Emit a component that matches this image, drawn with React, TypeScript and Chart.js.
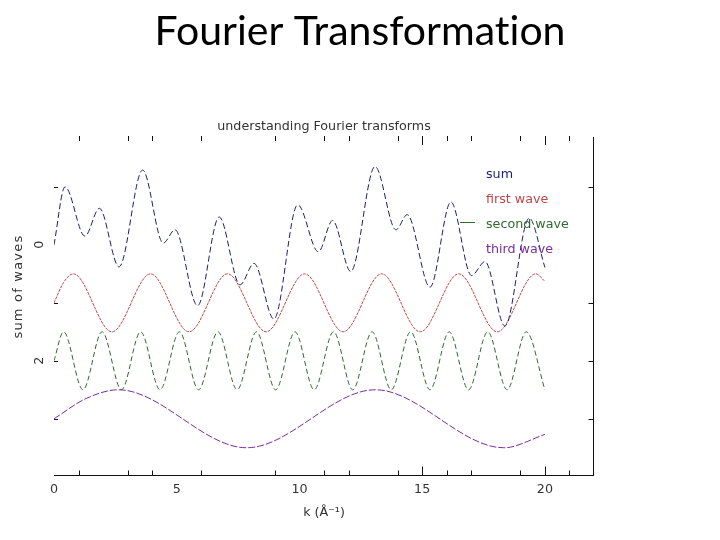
import React, { useEffect, useRef } from 'react';
import { Chart, registerables } from 'chart.js';

Chart.register(...registerables);

// ---- data ----
const sumX = [0, 0.45, 1.26, 1.85, 2.65, 3.61, 4.45, 4.93, 5.85, 6.73, 7.58, 8.15, 8.96, 9.93, 10.77, 11.35, 12.09, 13.08, 13.93, 14.39, 15.32, 16.17, 17.01, 17.56, 18.37, 19.36, 20];
const sumY = [0, -1.0, -0.15, -0.63, 0.38, -1.29, -0.03, -0.26, 1.05, -0.48, 0.69, 0.32, 1.28, -0.69, 0.12, -0.42, 0.46, -1.35, -0.26, -0.52, 0.73, -0.74, 0.53, 0.29, 1.4, -0.46, 0.39];

const firstX = [0, 0.39, 0.79, 2.36, 3.93, 5.5, 7.07, 8.64, 10.21, 11.78, 13.35, 14.92, 16.49, 18.06, 19.63, 20];
const firstY = [1, 0.65, 0.5, 1.5, 0.5, 1.5, 0.5, 1.5, 0.5, 1.5, 0.5, 1.5, 0.5, 1.5, 0.5, 0.63];

const secondX = [0, 0.39, 1.18, 1.96, 2.75, 3.53, 4.32, 5.11, 5.89, 6.68, 7.46, 8.25, 9.03, 9.82, 10.6, 11.39, 12.17, 12.96, 13.74, 14.53, 15.32, 16.1, 16.89, 17.67, 18.46, 19.24, 20];
const secondY = [2, 1.5, 2.5, 1.5, 2.5, 1.5, 2.5, 1.5, 2.5, 1.5, 2.5, 1.5, 2.5, 1.5, 2.5, 1.5, 2.5, 1.5, 2.5, 1.5, 2.5, 1.5, 2.5, 1.5, 2.5, 1.5, 2.5];

const thirdX = [0, 1.31, 2.62, 7.85, 13.09, 18.33, 20];
const thirdY = [3, 2.65, 2.5, 3.5, 2.5, 3.5, 3.27];

const seriesLabels = ['sum', 'first wave', 'second wave', 'third wave'];
const seriesColors = ['#1c1c7a', '#c04646', '#2e6a2e', '#7a2c9e'];

const xTickValues = [0, 5, 10, 15, 20];
const xTickMarks = [1, 3, 4, 6, 9, 11, 12, 14, 15, 16, 17, 19, 20, 21];
const yTickValues = [-1, 0, 1, 2, 3];
const yTickLabels = ['', '0', '', '2', ''];
const yTickMarks = [-1, 1, 2, 3];

// ZWNJ keeps "ti" from forming a ligature
const slideTitle = 'Fourier Transformat\u200Cion';
const chartTitle = 'understanding Fourier transforms';
const xTitle = 'k (Å⁻¹)';
const yTitle = 'sum of waves';

const AX_FONT = { family: '"DejaVu Sans", sans-serif', size: 12.7 };
const TXT = '#333';

const toPts = (xs: number[], ys: number[]) => xs.map((x, i) => ({ x, y: ys[i] }));

const framePlugin = {
  id: 'frame',
  afterDatasetsDraw(chart: any) {
    const { ctx, chartArea: a, scales } = chart;
    const xs = scales.x;
    const ys = scales.y;
    ctx.save();
    ctx.strokeStyle = '#111';
    ctx.lineWidth = 1;
    ctx.setLineDash([]);
    const b = Math.round(a.bottom) + 0.5;
    const r = Math.round(a.right) - 0.5;
    const t = Math.round(a.top);
    ctx.beginPath();
    ctx.moveTo(xs.getPixelForValue(0), b);
    ctx.lineTo(r + 0.5, b);
    ctx.moveTo(r, t);
    ctx.lineTo(r, b);
    xTickMarks.forEach((v) => {
      const px = Math.round(xs.getPixelForValue(v)) + 0.5;
      const len = v % 5 === 0 ? 9 : 5;
      ctx.moveTo(px, b);
      ctx.lineTo(px, b - len);
      ctx.moveTo(px, t - 1);
      ctx.lineTo(px, t + len - 1);
    });
    yTickMarks.forEach((v) => {
      const py = Math.round(ys.getPixelForValue(v)) + 0.5;
      ctx.moveTo(a.left, py);
      ctx.lineTo(a.left + 4, py);
      ctx.moveTo(r, py);
      ctx.lineTo(r - 5, py);
    });
    ctx.stroke();

    // legend (text entries inside plot)
    ctx.font = '12.7px "DejaVu Sans", sans-serif';
    ctx.textBaseline = 'middle';
    ctx.textAlign = 'left';
    chart.data.datasets.forEach((ds: any, i: number) => {
      ctx.fillStyle = ds.borderColor;
      ctx.fillText(ds.label, a.left + 432, a.top + 38 + i * 25);
    });
    ctx.strokeStyle = seriesColors[2];
    ctx.beginPath();
    ctx.moveTo(a.left + 406, a.top + 85.5);
    ctx.lineTo(a.left + 421, a.top + 85.5);
    ctx.stroke();

    // y-axis title, placed as in the original (off-centre, wide spacing)
    ctx.save();
    ctx.translate(a.left - 35, ys.getPixelForValue(0.72));
    ctx.rotate(-Math.PI / 2);
    ctx.font = '13px "DejaVu Sans", sans-serif';
    try { (ctx as any).letterSpacing = '1.2px'; } catch (e) {}
    ctx.fillStyle = TXT;
    ctx.textAlign = 'center';
    ctx.textBaseline = 'middle';
    ctx.fillText(yTitle, 0, 0);
    ctx.restore();
    ctx.restore();
  },
};

export default function App() {
  const ref = useRef<HTMLCanvasElement | null>(null);

  useEffect(() => {
    if (!ref.current) return;
    const dashes = [[6, 3], [3, 1], [5, 3], [7, 2]];
    const sets = [
      toPts(sumX, sumY),
      toPts(firstX, firstY),
      toPts(secondX, secondY),
      toPts(thirdX, thirdY),
    ];
    const chart = new Chart(ref.current, {
      type: 'line',
      data: {
        datasets: sets.map((d, i) => ({
          label: seriesLabels[i],
          data: d,
          borderColor: seriesColors[i],
          backgroundColor: seriesColors[i],
          borderWidth: 1,
          borderDash: dashes[i],
          pointRadius: 0,
          fill: false,
          cubicInterpolationMode: 'monotone' as const,
        })),
      },
      options: {
        responsive: false,
        animation: false,
        layout: { padding: 0 },
        plugins: {
          legend: { display: false },
          tooltip: { enabled: false },
          title: {
            display: true,
            text: slideTitle,
            color: '#000',
            font: { family: 'Lato, "Liberation Sans", sans-serif', size: 41, weight: 'normal' },
            padding: { top: 32 - 0.6 * 41, bottom: 87.38 - 0.6 * 41 },
          },
          subtitle: {
            display: true,
            text: chartTitle,
            color: TXT,
            fullSize: false,
            font: AX_FONT,
            padding: { top: 0, bottom: 2.38 },
          },
        },
        scales: {
          x: {
            type: 'linear',
            min: 0,
            max: 22,
            afterBuildTicks: (s: any) => {
              s.ticks = xTickValues.map((v) => ({ value: v }));
            },
            afterFit: (s: any) => {
              s.height = 65;
            },
            grid: { display: false, drawTicks: false },
            border: { display: false },
            ticks: { font: AX_FONT, color: TXT, padding: 7.4, maxRotation: 0, autoSkip: false },
            title: { display: true, text: xTitle, font: AX_FONT, color: TXT, padding: { top: 0, bottom: 19.4 } },
          },
          y: {
            type: 'linear',
            reverse: true,
            min: -1.86,
            max: 3.97,
            afterBuildTicks: (s: any) => {
              s.ticks = yTickValues.map((v) => ({ value: v }));
            },
            afterFit: (s: any) => {
              s.width = 54;
            },
            grid: { display: false, drawTicks: false },
            border: { display: false },
            ticks: {
              font: AX_FONT,
              color: TXT,
              padding: 10,
              minRotation: 90,
              maxRotation: 90,
              crossAlign: 'center',
              autoSkip: false,
              callback: (v: any) => {
                const i = yTickValues.indexOf(Number(v));
                return i >= 0 ? yTickLabels[i] : '';
              },
            },
          },
          yRight: {
            type: 'linear',
            position: 'right',
            display: true,
            afterFit: (s: any) => {
              s.width = 126;
            },
            grid: { display: false, drawTicks: false },
            border: { display: false },
            ticks: { display: false },
          },
        },
      },
      plugins: [framePlugin],
    });
    return () => chart.destroy();
  }, []);

  return (
    <div style={{ position: 'absolute', left: 0, top: 0, width: 720, height: 540, background: '#fff' }}>
      <canvas ref={ref} width={720} height={540} />
    </div>
  );
}
